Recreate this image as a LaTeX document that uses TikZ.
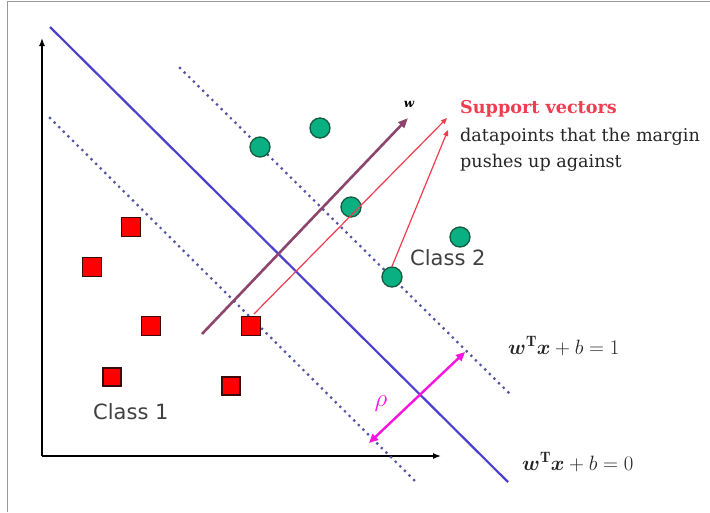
\documentclass[tikz,border=0pt]{standalone}
\usepackage{amsmath}
\usepackage{fontspec}
\usetikzlibrary{arrows.meta}
\newfontfamily\serifdv{DejaVu Serif}
\newfontfamily\sansdv{DejaVu Sans}
\definecolor{hypblue}{RGB}{75,65,205}
\definecolor{dotblue}{RGB}{85,85,165}
\definecolor{wpurple}{RGB}{140,70,110}
\definecolor{svred}{RGB}{240,60,80}
\definecolor{rhomag}{RGB}{250,20,225}
\definecolor{ptgreen}{RGB}{10,175,130}
\definecolor{ptedge}{RGB}{20,90,60}
\definecolor{sqedge}{RGB}{60,10,10}
\tikzset{
  frameline/.style={draw=gray!80, line width=1.5pt},
  axisline/.style={line width=1.3pt, -{Latex[length=8pt,width=6pt]}},
  hyper/.style={hypblue, line width=2.2pt},
  marginline/.style={dotblue, line width=3.2pt, line cap=round, dash pattern=on 0pt off 6.5pt},
  wvec/.style={wpurple, line width=2.6pt, -{Triangle[length=10pt,width=8pt]}},
  svarrow/.style={svred, line width=1.2pt, -{Triangle[length=6pt,width=5pt]}},
  rhoarrow/.style={rhomag, line width=2.4pt, {Triangle[length=9pt,width=8pt]}-{Triangle[length=9pt,width=8pt]}},
  c2pt/.style={circle, draw=ptedge, fill=ptgreen, line width=1.3pt, minimum size=20pt, inner sep=0pt},
  c1pt/.style={rectangle, draw=sqedge, fill=red, line width=1.1pt, minimum size=19pt, inner sep=0pt},
  classlbl/.style={font=\sansdv\fontsize{21}{24}\selectfont, text=black!75, inner sep=0pt},
  svtext/.style={font=\serifdv\fontsize{17.6}{20}\selectfont, inner sep=0pt, anchor=base west},
  eqlbl/.style={font=\fontsize{21.5}{24}\selectfont, text=black!85, inner sep=0pt, anchor=west}
}
\begin{document}
\begin{tikzpicture}[x=1pt,y=-1pt]
\useasboundingbox (0,0) rectangle (710,512);
\fill[white] (0,0) rectangle (710,512);
% frame
\coordinate (fbl) at (7.5,512);
\coordinate (ftl) at (7.5,1.5);
\coordinate (ftr) at (710,1.5);
\draw[frameline] (fbl) -- (ftl) -- (ftr);
% axes
\coordinate (orig) at (42,456);
\coordinate (ytop) at (42,38);
\coordinate (xend) at (441,456);
\draw[axisline] (orig) -- (ytop);
\draw[axisline] (orig) -- (xend);
% hyperplane and margins
\coordinate (h0a) at (50,27);
\coordinate (h0b) at (508,482);
\draw[hyper] (h0a) -- (h0b);
\coordinate (h1a) at (180,68);
\coordinate (h1b) at (512,396);
\draw[marginline] (h1a) -- (h1b);
\coordinate (h2a) at (50,118);
\coordinate (h2b) at (416,482);
\draw[marginline] (h2a) -- (h2b);
% points class 2
\node[c2pt] (g1) at (260,147) {};
\node[c2pt] (g2) at (320,128) {};
\node[c2pt] (g3) at (351,207) {};
\node[c2pt] (g4) at (460,237) {};
\node[c2pt] (g5) at (392,277) {};
% points class 1
\node[c1pt] (r1) at (131,227) {};
\node[c1pt] (r2) at (92,267) {};
\node[c1pt] (r3) at (151,326) {};
\node[c1pt] (r4) at (251,326) {};
\node[c1pt, minimum size=18pt] (r5) at (112,377) {};
\node[c1pt, minimum size=18pt] (r6) at (231,386) {};
% w vector
\coordinate (wstart) at (202,334);
\coordinate (wend) at (408,118);
\draw[wvec] (wstart) -- (wend);
\node[font=\serifdv\bfseries\itshape\fontsize{12}{14}\selectfont, inner sep=0pt] (wlbl) at (409,104) {w};
% support vector text
\node[svtext, text=svred, font=\serifdv\bfseries\fontsize{17.6}{20}\selectfont] (sv) at (460,113) {Support vectors};
\node[svtext, text=black!85] (sv2) at (460,141) {datapoints that the margin};
\node[svtext, text=black!85] (sv3) at (460,167) {pushes up against};
\coordinate (sva) at (447,118);
\coordinate (svb) at (448,130);
\draw[svarrow] (r4.north) ++(3,-2) coordinate (r4t) -- (sva);
\draw[svarrow] (g5.north) -- (svb);
% class labels
\node[classlbl, anchor=west] (cl2) at (410,258) {Class 2};
\node[classlbl, anchor=west] (cl1) at (93,412) {Class 1};
% margin width
\coordinate (rhoa) at (369,443);
\coordinate (rhob) at (465,352);
\draw[rhoarrow] (rhoa) -- (rhob);
\node[text=rhomag, font=\fontsize{32}{34}\selectfont, inner sep=0pt] (rho) at (381,404) {$\rho$};
% equations
\node[eqlbl] (eq1) at (508,346) {$\boldsymbol{w}^{\mathbf{T}}\boldsymbol{x}+b=1$};
\node[eqlbl] (eq0) at (522,462) {$\boldsymbol{w}^{\mathbf{T}}\boldsymbol{x}+b=0$};
\end{tikzpicture}
\end{document}
